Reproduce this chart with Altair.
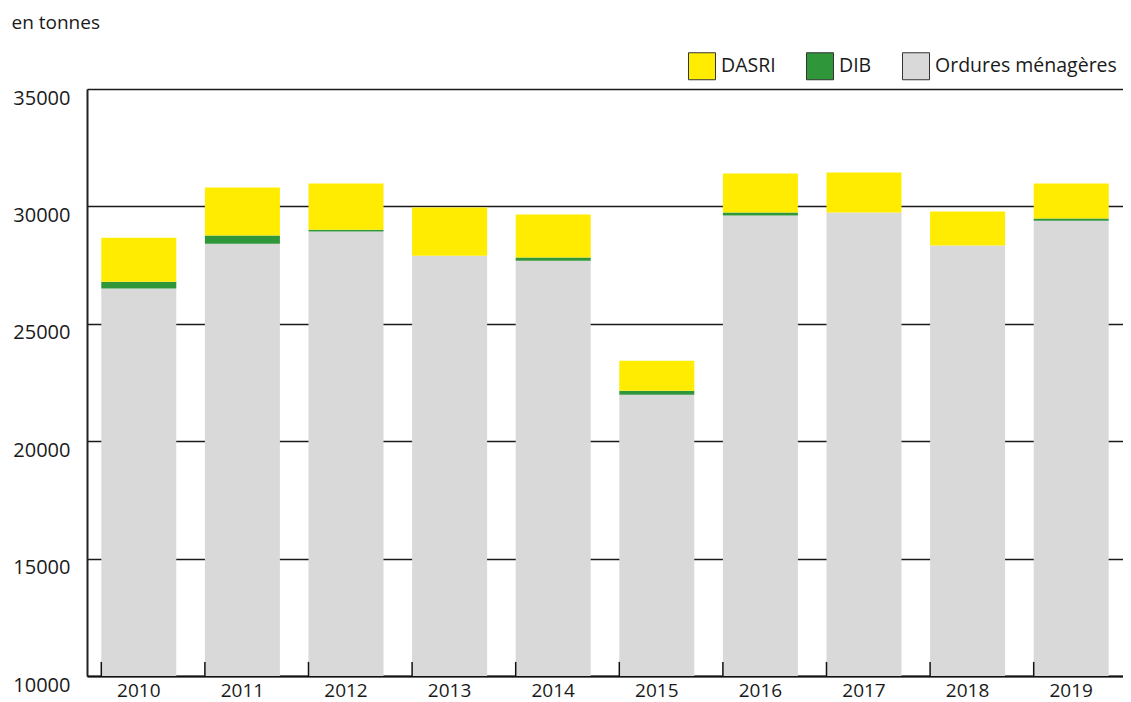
import altair as alt
import pandas as pd

years = ["2010", "2011", "2012", "2013", "2014", "2015", "2016", "2017", "2018", "2019"]
ordures_menageres = [26500, 28410, 28930, 27900, 27690, 21980, 29610, 29740, 28330, 29390]
dib = [290, 350, 80, 0, 130, 170, 130, 0, 0, 90]
dasri = [1880, 2040, 1960, 2050, 1830, 1280, 1660, 1700, 1450, 1490]

series_names = ["DASRI", "DIB", "Ordures ménagères"]
series_colors = ["#FFEC00", "#30963A", "#D9D9D9"]
stack_rank = {"Ordures ménagères": 0, "DIB": 1, "DASRI": 2}
y_ticks = [10000, 15000, 20000, 25000, 30000, 35000]

rows = []
for i, y in enumerate(years):
    for name, vals in (("Ordures ménagères", ordures_menageres), ("DIB", dib), ("DASRI", dasri)):
        rows.append({"year": y, "type": name, "value": vals[i], "rank": stack_rank[name]})
df = pd.DataFrame(rows)
ticks_df = pd.DataFrame({"year": years})

FONT = "Open Sans"
TXT = "#1a1a1a"

xscale = alt.Scale(domain=years, paddingInner=0.276, paddingOuter=0.138)
yscale = alt.Scale(domain=[10000, 35000], nice=False, zero=False)

bars = alt.Chart(df).mark_bar(clip=True).encode(
    x=alt.X("year:N", scale=xscale, sort=years,
            axis=alt.Axis(title=None, labelAngle=0, ticks=False, labelPadding=5,
                          labelFont=FONT, labelFontSize=19, labelColor=TXT,
                          domainColor="#111", domainWidth=2, grid=False)),
    y=alt.Y("sum(value):Q", scale=yscale, stack="zero",
            axis=alt.Axis(title="en tonnes", titleAngle=0, titleX=-76, titleY=-67,
                          titleAlign="left", titleBaseline="middle", titleFont=FONT,
                          titleFontSize=19, titleFontWeight="normal", titleColor=TXT,
                          values=y_ticks, format="d", ticks=False, labelPadding=17,
                          labelOffset=9, labelFont=FONT, labelFontSize=20, labelColor=TXT,
                          domainColor="#222", domainWidth=2,
                          grid=True, gridColor="#1a1a1a", gridWidth=1.5)),
    color=alt.Color("type:N", scale=alt.Scale(domain=series_names, range=series_colors),
                    legend=alt.Legend(title=None, orient="none", direction="horizontal",
                                      legendX=601, legendY=-37, symbolType="square",
                                      symbolSize=729, symbolStrokeColor="#333",
                                      symbolStrokeWidth=1, labelFont=FONT, labelFontSize=19.5,
                                      labelColor=TXT, labelOffset=5, columnPadding=28,
                                      labelLimit=400)),
    order=alt.Order("rank:Q", sort="ascending"),
)

tick_rules = alt.Chart(ticks_df).mark_rule(color="#111", strokeWidth=1.5).encode(
    x=alt.X("year:N", scale=xscale, sort=years, bandPosition=0),
    y=alt.datum(10000),
    y2=alt.datum(10600),
)

chart = alt.layer(bars, tick_rules).properties(
    width=1036, height=587,
    autosize=alt.AutoSizeParams(type="none"),
    padding={"left": 79, "top": 81, "right": 0, "bottom": 32},
).configure_view(stroke=None).configure(background="white")

chart.save("out.html", embed_options={"renderer": "svg", "actions": False})
